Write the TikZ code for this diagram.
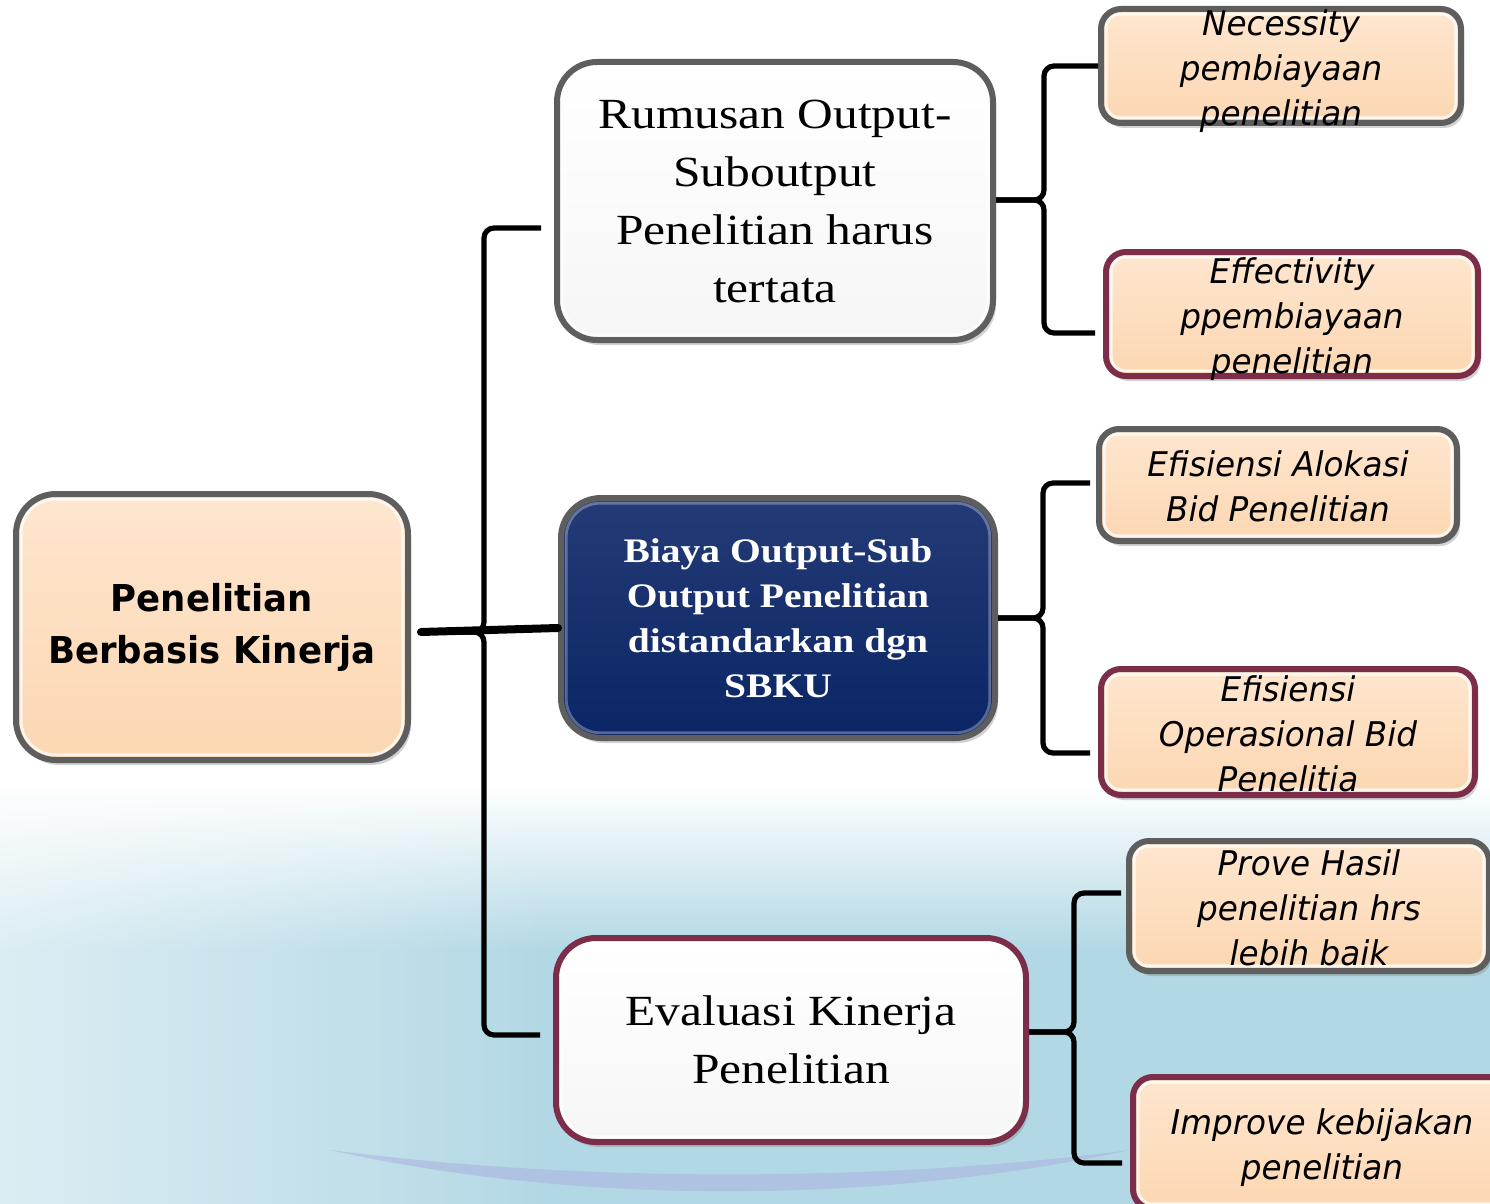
\documentclass[tikz,border=0pt]{standalone}
\usepackage{fontspec}
\usepackage{tikz}
\usetikzlibrary{calc,shadows,fadings}

\newfontfamily\tahoma[FakeStretch=0.96,BoldFont={DejaVu Sans Bold},ItalicFont={DejaVu Sans Oblique}]{DejaVu Sans}
\newfontfamily\cambria[FakeStretch=1.15]{Liberation Serif}

\definecolor{peach}{HTML}{FCD7B2}
\definecolor{peachtop}{HTML}{FEE6CF}
\definecolor{navy}{HTML}{0B2566}
\definecolor{greyline}{HTML}{5E5E5E}
\definecolor{maroon}{HTML}{7B2D4A}
\definecolor{bgblue}{HTML}{B2D8E5}
\definecolor{lavender}{HTML}{ACB0DE}

% text that may run over the edge of its box
\newcommand{\overtext}[1]{\smash{\raisebox{-7pt}{\begin{tabular}{@{}c@{}}#1\end{tabular}}}}

\begin{document}
\begin{tikzpicture}[x=0.5pt, y=-0.5pt,
    box/.style = {rounded corners=20pt, line width=3pt, inner sep=0pt, align=center,
                  drop shadow={shadow xshift=1.5pt, shadow yshift=-2.5pt, opacity=0.35}},
    bevel/.style 2 args = {path picture={\draw[white, line width=1.4pt, opacity=#2, rounded corners=#1]
                  ([shift={(2.6pt,-2.6pt)}]path picture bounding box.north west) rectangle
                  ([shift={(-2.6pt,2.6pt)}]path picture bounding box.south east);}},
    greyframe/.style = {box, draw=greyline, bevel={17pt}{0.75}},
    maroonframe/.style = {box, draw=maroon, bevel={17pt}{0.75}},
    peachfill/.style = {top color=peachtop, bottom color=peach},
    whitefill/.style = {top color=white, bottom color=gray!7},
    small/.style = {rounded corners=10pt, bevel={7pt}{0.75}, minimum width=#1,
                    font=\tahoma\itshape\fontsize{17}{22.5}\selectfont},
    middle/.style = {font=\cambria\fontsize{21.5}{29}\selectfont},
    brace/.style = {line width=2.6pt, rounded corners=5pt},
    stem/.style = {line width=4pt, line cap=round}
  ]
  \useasboundingbox (0,0) rectangle (1490,1204);

  % background
  \fill[white] (0,0) rectangle (1490,1204);
  \shade[top color=white, bottom color=bgblue] (0,785) rectangle (1490,950);
  \fill[bgblue] (0,950) rectangle (1490,1204);
  \fill[white, path fading=east, fill opacity=0.55] (0,800) rectangle (560,1204);
  \fill[lavender, fill opacity=0.55] (330,1150) .. controls (600,1185) and (900,1180) .. (1130,1150)
    .. controls (900,1200) and (600,1210) .. (330,1150) -- cycle;

  % boxes
  \node[greyframe, peachfill, minimum width=196pt, minimum height=133pt,
        font=\tahoma\bfseries\fontsize{18.5}{26}\selectfont] (pbk) at (212,627) {Penelitian\\Berbasis Kinerja};

  \node[greyframe, whitefill, middle, minimum width=218pt, minimum height=139pt] (rum) at (775,201)
    {Rumusan Output-\\Suboutput\\Penelitian harus\\tertata};
  \node[greyframe, bevel={17pt}{0.3}, top color=navy!90!white, bottom color=navy, text=white,
        minimum width=217pt, minimum height=120pt,
        font=\cambria\bfseries\fontsize{17.2}{22.5}\selectfont] (biaya) at (778,618)
    {Biaya Output-Sub\\Output Penelitian\\distandarkan dgn\\SBKU};
  \node[maroonframe, whitefill, middle, minimum width=235pt, minimum height=102pt] (eval) at (791,1040)
    {Evaluasi Kinerja\\Penelitian};

  \node[greyframe, peachfill, small=180pt, minimum height=57pt] (nec) at (1281,66)
    {\overtext{Necessity\\pembiayaan\\penelitian}};
  \node[maroonframe, peachfill, small=186pt, minimum height=62pt] (eff) at (1292,314)
    {\overtext{Effectivity\\ppembiayaan\\penelitian}};
  \node[greyframe, peachfill, small=179pt, minimum height=56pt] (alok) at (1278,485)
    {\overtext{Efisiensi Alokasi\\Bid Penelitian}};
  \node[maroonframe, peachfill, small=187pt, minimum height=63pt] (oper) at (1288,732)
    {\overtext{Efisiensi\\Operasional Bid\\Penelitia}};
  \node[greyframe, peachfill, small=180pt, minimum height=65pt] (prove) at (1309,906)
    {\overtext{Prove Hasil\\penelitian hrs\\lebih baik}};
  \node[maroonframe, peachfill, small=189pt, minimum height=66pt] (impr) at (1322,1143)
    {\overtext{Improve kebijakan\\penelitian}};

  % main brace
  \coordinate (bm) at ($(pbk.east)+(73,5)$);
  \draw[brace] ($(rum.west)+(-13,27)$) -| (bm) -- ($(pbk.east)+(10,5)$);
  \draw[brace] ($(pbk.east)+(10,5)$) -- (bm) |- ($(eval.west)+(-13,-5)$);
  \draw[stem] ($(pbk.east)+(10,5)$) -- ($(biaya.west)+(0,10)$);

  % right braces
  \coordinate (b1) at ($(rum.east)+(48,-1)$);
  \draw[brace] (nec.west) -| (b1) -- ($(rum.east)+(0,-1)$);
  \draw[brace] ($(rum.east)+(0,-1)$) -- (b1) |- ($(eff.west)+(-8,19)$);

  \coordinate (b2) at ($(biaya.east)+(45,0)$);
  \draw[brace] ($(alok.west)+(-6,-2)$) -| (b2) -- (biaya.east);
  \draw[brace] (biaya.east) -- (b2) |- ($(oper.west)+(-8,21)$);

  \coordinate (b3) at ($(eval.east)+(45,-8)$);
  \draw[brace] ($(prove.west)+(-5,-13)$) -| (b3) -- ($(eval.east)+(0,-8)$);
  \draw[brace] ($(eval.east)+(0,-8)$) -- (b3) |- ($(impr.west)+(-8,20)$);
\end{tikzpicture}
\end{document}
